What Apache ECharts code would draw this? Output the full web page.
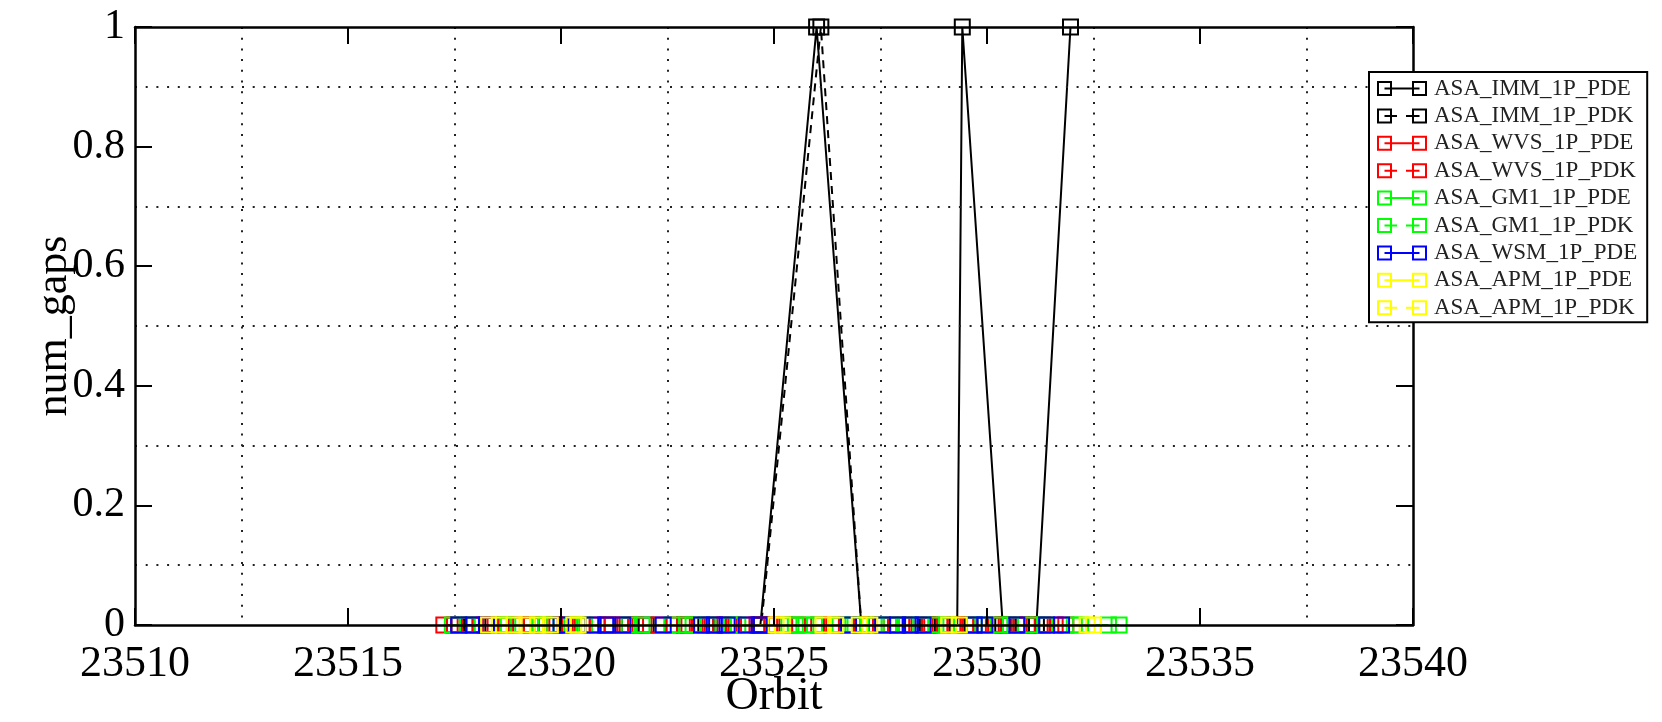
<!DOCTYPE html>
<html>
<head>
<meta charset="utf-8">
<script src="https://cdn.jsdelivr.net/npm/echarts@6/dist/echarts.min.js"></script>
<style>
  html, body { margin: 0; padding: 0; background: #fff; }
  #main { width: 1662px; height: 722px; }
</style>
</head>
<body>
<div id="main"></div>
<script>
// x ticks / y ticks
const orbitTicks = [23510, 23515, 23520, 23525, 23530, 23535, 23540];
const gapTicks = [0, 0.2, 0.4, 0.6, 0.8, 1];

// ASA_IMM (black)
const immPdeOrbit = [23517.6, 23518.4, 23519.3, 23520.2, 23521.1, 23522.0, 23522.9, 23523.8, 23524.68, 23526.0, 23527.05, 23527.9, 23528.6, 23529.3, 23529.42, 23530.37, 23530.8, 23531.16, 23531.96];
const immPdeGaps  = [0, 0, 0, 0, 0, 0, 0, 0, 0, 1, 0, 0, 0, 0, 1, 0, 0, 0, 1];
const immPdkOrbit = [23517.9, 23519.8, 23521.6, 23523.4, 23524.7, 23526.1, 23527.05, 23528.2, 23529.6, 23530.5, 23531.3];
const immPdkGaps  = [0, 0, 0, 0, 0, 1, 0, 0, 0, 0, 0];

// ASA_WVS (red)
const wvsPdeOrbit = [23517.25, 23517.75, 23518.35, 23518.95, 23519.55, 23520.1, 23520.85, 23521.2, 23521.75, 23522.65, 23523.2, 23523.75, 23524.3, 23524.95, 23525.55, 23526.35, 23527.2, 23527.75, 23528.35, 23528.9, 23529.55, 23530.15, 23530.75, 23531.3, 23531.85];
const wvsPdeGaps  = [0, 0, 0, 0, 0, 0, 0, 0, 0, 0, 0, 0, 0, 0, 0, 0, 0, 0, 0, 0, 0, 0, 0, 0, 0];
const wvsPdkOrbit = [23517.5, 23518.1, 23518.7, 23519.3, 23519.85, 23520.5, 23521.5, 23522.3, 23522.9, 23523.5, 23524.05, 23524.6, 23525.25, 23526.05, 23526.7, 23527.5, 23528.05, 23528.65, 23529.25, 23529.85, 23530.45, 23531.05, 23531.6];
const wvsPdkGaps  = [0, 0, 0, 0, 0, 0, 0, 0, 0, 0, 0, 0, 0, 0, 0, 0, 0, 0, 0, 0, 0, 0, 0];

// ASA_GM1 (green)
const gm1PdeOrbit = [23517.45, 23518.75, 23519.65, 23520.55, 23521.9, 23522.95, 23523.45, 23524.15, 23525.35, 23525.75, 23526.55, 23527.4, 23528.1, 23528.8, 23529.7, 23530.3, 23531.05, 23532.05, 23532.85];
const gm1PdeGaps  = [0, 0, 0, 0, 0, 0, 0, 0, 0, 0, 0, 0, 0, 0, 0, 0, 0, 0, 0];
const gm1PdkOrbit = [23517.8, 23518.65, 23519.5, 23520.25, 23521.6, 23522.6, 23523.1, 23524.0, 23525.5, 23525.95, 23526.85, 23527.7, 23528.45, 23529.05, 23529.9, 23530.55, 23531.35, 23532.2, 23533.1];
const gm1PdkGaps  = [0, 0, 0, 0, 0, 0, 0, 0, 0, 0, 0, 0, 0, 0, 0, 0, 0, 0, 0];

// ASA_WSM (blue)
const wsmPdeOrbit = [23517.6, 23517.95, 23518.25, 23520.0, 23520.75, 23521.05, 23521.45, 23522.4, 23523.3, 23523.6, 23523.9, 23524.35, 23524.65, 23526.75, 23527.55, 23527.9, 23528.2, 23528.5, 23529.7, 23529.95, 23530.7, 23531.4, 23531.75];
const wsmPdeGaps  = [0, 0, 0, 0, 0, 0, 0, 0, 0, 0, 0, 0, 0, 0, 0, 0, 0, 0, 0, 0, 0, 0, 0];

// ASA_APM (yellow)
const apmPdeOrbit = [23518.3, 23518.9, 23519.45, 23520.4, 23525.05, 23526.15, 23527.0, 23529.1, 23532.35];
const apmPdeGaps  = [0, 0, 0, 0, 0, 0, 0, 0, 0];
const apmPdkOrbit = [23518.55, 23519.2, 23519.75, 23520.3, 23525.2, 23526.45, 23527.25, 23529.35, 23532.5];
const apmPdkGaps  = [0, 0, 0, 0, 0, 0, 0, 0, 0];

const FONT = 'Liberation Serif';

const seriesDefs = [
  { name: 'ASA_IMM_1P_PDE', orbit: immPdeOrbit, gaps: immPdeGaps, color: '#000000', dashed: false },
  { name: 'ASA_IMM_1P_PDK', orbit: immPdkOrbit, gaps: immPdkGaps, color: '#000000', dashed: true },
  { name: 'ASA_WVS_1P_PDE', orbit: wvsPdeOrbit, gaps: wvsPdeGaps, color: '#ff0000', dashed: false },
  { name: 'ASA_WVS_1P_PDK', orbit: wvsPdkOrbit, gaps: wvsPdkGaps, color: '#ff0000', dashed: true },
  { name: 'ASA_GM1_1P_PDE', orbit: gm1PdeOrbit, gaps: gm1PdeGaps, color: '#00ff00', dashed: false },
  { name: 'ASA_GM1_1P_PDK', orbit: gm1PdkOrbit, gaps: gm1PdkGaps, color: '#00ff00', dashed: true },
  { name: 'ASA_WSM_1P_PDE', orbit: wsmPdeOrbit, gaps: wsmPdeGaps, color: '#0000ff', dashed: false },
  { name: 'ASA_APM_1P_PDE', orbit: apmPdeOrbit, gaps: apmPdeGaps, color: '#ffff00', dashed: false },
  { name: 'ASA_APM_1P_PDK', orbit: apmPdkOrbit, gaps: apmPdkGaps, color: '#ffff00', dashed: true }
];

// legend icons: two hollow squares joined by a line (solid or broken)
const squares = 'M0 0H30V4H0Z M0 26H30V30H0Z M0 0H4V30H0Z M26 0H30V30H26Z ' +
  'M70 0H100V4H70Z M70 26H100V30H70Z M70 0H74V30H70Z M96 0H100V30H96Z ';
const solidIcon = 'path://' + squares + 'M15 13H85V17H15Z';
const dashIcon = 'path://' + squares + 'M15 13H40V17H15Z M58 13H85V17H58Z';

const chart = echarts.init(document.getElementById('main'));

const option = {
  animation: false,
  backgroundColor: '#fff',
  grid: { left: 135, right: 249, top: 27, bottom: 97, containLabel: false, outerBoundsMode: 'none' },
  legend: {
    orient: 'vertical',
    left: 1369,
    top: 72,
    selectedMode: false,
    backgroundColor: '#fff',
    borderColor: '#000',
    borderWidth: 2,
    borderRadius: 0,
    padding: [5, 10, 3, 8],
    itemGap: 4.4,
    itemWidth: 50,
    itemHeight: 15,
    z: 10,
    textStyle: { fontFamily: FONT, fontSize: 23, color: '#222', lineHeight: 22, padding: [0, 0, 0, 2] },
    data: seriesDefs.map(s => ({
      name: s.name,
      icon: s.dashed ? dashIcon : solidIcon,
      itemStyle: { color: s.color, borderWidth: 0 }
    }))
  },
  xAxis: [
    {
      type: 'value', position: 'bottom', min: orbitTicks[0], max: orbitTicks[orbitTicks.length - 1], interval: 5,
      z: 5,
      name: 'Orbit', nameLocation: 'middle', nameGap: 49, nameMoveOverlap: false,
      nameTextStyle: { fontFamily: FONT, fontSize: 46, color: '#000' },
      axisLine: { show: true, onZero: false, lineStyle: { color: '#000', width: 2.5 } },
      axisTick: { show: true, inside: true, length: 17, lineStyle: { color: '#000', width: 2 } },
      axisLabel: { fontFamily: FONT, fontSize: 44, color: '#000', margin: 17, formatter: v => String(v) },
      splitLine: { show: false }
    },
    {
      type: 'value', position: 'top', min: orbitTicks[0], max: orbitTicks[orbitTicks.length - 1], interval: 5,
      z: 0,
      axisLine: { show: true, onZero: false, lineStyle: { color: '#000', width: 2.5 } },
      axisTick: { show: true, inside: true, length: 17, lineStyle: { color: '#000', width: 2 } },
      axisLabel: { show: false },
      splitLine: { show: false },
      minorTick: { show: false, splitNumber: 2 },
      minorSplitLine: { show: true, lineStyle: { color: '#222', width: 2, type: [2, 8.7] } }
    }
  ],
  yAxis: [
    {
      type: 'value', position: 'left', min: gapTicks[0], max: gapTicks[gapTicks.length - 1], interval: 0.2,
      z: 5,
      name: 'num_gaps', nameLocation: 'middle', nameGap: 59, nameMoveOverlap: false,
      nameTextStyle: { fontFamily: FONT, fontSize: 44, color: '#000' },
      axisLine: { show: true, onZero: false, lineStyle: { color: '#000', width: 2.5 } },
      axisTick: { show: true, inside: true, length: 17, lineStyle: { color: '#000', width: 2 } },
      axisLabel: { fontFamily: FONT, fontSize: 42, color: '#000', margin: 10 },
      splitLine: { show: false },
      minorTick: { show: false, splitNumber: 2 },
      minorSplitLine: { show: true, lineStyle: { color: '#222', width: 2, type: [2, 8.7] } }
    },
    {
      type: 'value', position: 'right', min: gapTicks[0], max: gapTicks[gapTicks.length - 1], interval: 0.2,
      z: 5,
      axisLine: { show: true, onZero: false, lineStyle: { color: '#000', width: 2.5 } },
      axisTick: { show: true, inside: true, length: 17, lineStyle: { color: '#000', width: 2 } },
      axisLabel: { show: false },
      splitLine: { show: false }
    }
  ],
  series: seriesDefs.map(s => ({
    name: s.name,
    type: 'line',
    xAxisIndex: 0,
    yAxisIndex: 0,
    clip: false,
    symbol: 'rect',
    symbolSize: 15,
    showAllSymbol: true,
    itemStyle: { color: 'rgba(0,0,0,0)', borderColor: s.color, borderWidth: 2 },
    lineStyle: { color: s.color, width: 2, type: s.dashed ? [8, 6] : 'solid' },
    emphasis: { disabled: true },
    data: s.orbit.map((o, i) => [o, s.gaps[i]])
  }))
};

chart.setOption(option);
</script>
</body>
</html>
